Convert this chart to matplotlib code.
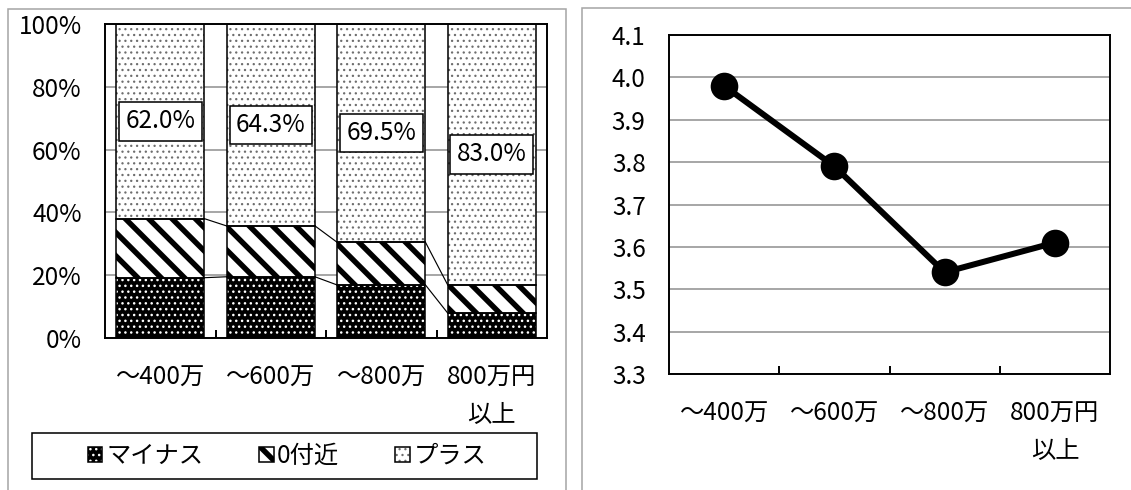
import matplotlib.pyplot as plt
import numpy as np
from matplotlib.patches import Patch, Rectangle
from matplotlib.legend_handler import HandlerTuple, HandlerPatch

plt.rcParams['font.family'] = ['Noto Sans CJK JP', 'DejaVu Sans']
plt.rcParams['font.size'] = 12.5
plt.rcParams['hatch.linewidth'] = 0.7

categories = ["〜400万", "〜600万", "〜800万", "800万円\n以上"]
series_names = ["マイナス", "0付近", "プラス"]
minus = [19.2, 19.5, 16.9, 8.0]
near_zero = [18.8, 16.2, 13.6, 9.0]
plus = [62.0, 64.3, 69.5, 83.0]
mean_score = [3.98, 3.79, 3.54, 3.61]

W, H, DPI = 1131, 490, 140
GRID = '#a6a6a6'


def fx(px):
    return px / W


def fy(px):
    return 1 - px / H


def set_hatch_lw(patches, lw):
    for p in patches:
        p.hlw = lw
        if hasattr(p, "set_hatch_linewidth"):
            p.set_hatch_linewidth(lw)


def legend_patch(legend, orig_handle, xdescent, ydescent, width, height, fontsize):
    p = Rectangle((-xdescent, -ydescent), width, height)
    p.update_from(orig_handle)
    set_hatch_lw([p], getattr(orig_handle, "hlw", 0.7))
    return p


# face colour, hatch colour, hatch, hatch linewidth
styles = [("black", "white", "....", 0.7),
          ("white", "black", "\\\\", 2.8),
          ("white", "#6e6e6e", "....", 0.6)]

fig = plt.figure(figsize=(W / DPI, H / DPI), dpi=DPI)

# grey panel frames
for x0, y0, x1 in [(8, 9, 566), (582, 8, 1145)]:
    fig.patches.append(Rectangle((fx(x0), -0.1), fx(x1) - fx(x0), fy(y0) + 0.1,
                                 transform=fig.transFigure, fill=False,
                                 edgecolor=GRID, linewidth=0.8, zorder=0))

ax1 = fig.add_axes([fx(105), fy(338), fx(547) - fx(105), fy(24) - fy(338)])
ax2 = fig.add_axes([fx(669), fy(374), fx(1110) - fx(669), fy(35) - fy(374)])

x = np.arange(len(categories))
bottom = np.zeros(len(categories))
tops = []
for vals, (fc, hc, hatch, hlw) in zip([minus, near_zero, plus], styles):
    bars = ax1.bar(x, vals, 0.8, bottom=bottom, color=fc, edgecolor=hc,
                   hatch=hatch, linewidth=0, zorder=2)
    set_hatch_lw(bars, hlw)
    ax1.bar(x, vals, 0.8, bottom=bottom, fill=False, edgecolor='black',
            linewidth=0.8, zorder=3)
    bottom = bottom + np.array(vals)
    tops.append(bottom.copy())

# series lines between bars
for level in tops[:2]:
    for i in range(len(x) - 1):
        ax1.plot([x[i] + 0.4, x[i + 1] - 0.4], [level[i], level[i + 1]],
                 color='black', lw=0.6, zorder=3)

for i in range(len(x)):
    ax1.text(x[i], tops[1][i] + plus[i] / 2, f"{plus[i]:.1f}%", ha='center',
             va='center', zorder=4,
             bbox=dict(boxstyle='square,pad=0.26', fc='white', ec='black', lw=0.8))

ax1.set_ylim(0, 100)
ax1.set_yticks(np.arange(0, 101, 20))
ax1.set_yticklabels([f"{v}%" for v in range(0, 101, 20)])

ax2.plot(x, mean_score, '-o', color='black', lw=3.1, ms=13.2, zorder=3)
ax2.set_ylim(3.3, 4.1)
yt = np.arange(3.3, 4.15, 0.1)
ax2.set_yticks(yt)
ax2.set_yticklabels([f"{v:.1f}" for v in yt])

for ax in (ax1, ax2):
    ax.set_xlim(-0.5, len(categories) - 0.5)
    ax.set_xticks(x)
    ax.set_xticklabels(categories, linespacing=1.55)
    ax.set_xticks(x[:-1] + 0.5, minor=True)
    ax.tick_params(axis='x', which='major', length=0, pad=14)
    ax.tick_params(axis='x', which='minor', direction='in', length=4, width=1)
    ax.tick_params(axis='y', length=0, pad=12)
    ax.yaxis.grid(True, color=GRID, lw=1.0)
    ax.set_axisbelow(True)
    for s in ax.spines.values():
        s.set_linewidth(1.0)
        s.set_zorder(5)

# legend
handles = []
for fc, hc, hatch, hlw in styles:
    p = Patch(facecolor=fc, edgecolor=hc, hatch=hatch, linewidth=0)
    set_hatch_lw([p], hlw)
    handles.append((p, Patch(fill=False, edgecolor='black', linewidth=0.8)))
fig.legend(handles, series_names,
           handler_map={tuple: HandlerTuple(ndivide=1, pad=0),
                        Patch: HandlerPatch(patch_func=legend_patch)},
           loc='center', bbox_to_anchor=(fx(287), fy(456)), ncol=3,
           frameon=False, handlelength=0.6, handleheight=0.6,
           handletextpad=0.15, columnspacing=2.3)
fig.patches.append(Rectangle((fx(32), fy(479)), fx(537) - fx(32), fy(433) - fy(479),
                             transform=fig.transFigure, fill=False,
                             edgecolor='black', linewidth=0.8))

fig.savefig("out.png", dpi=DPI)
